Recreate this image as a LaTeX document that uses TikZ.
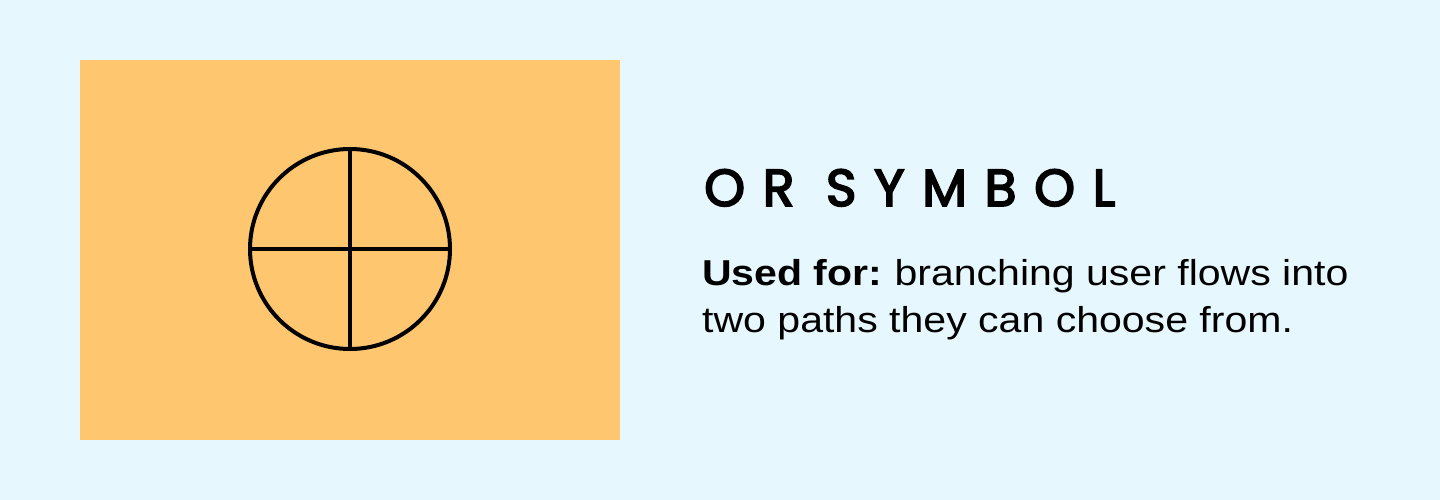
\documentclass[tikz,border=0pt]{standalone}
\usepackage{fontspec}
\setmainfont{Liberation Sans}
\newfontfamily\bodyfont[FakeStretch=1.14]{Liberation Sans}
\newfontfamily\titlefont[LetterSpace=34,FakeBold=3.5]{Poppins}
\definecolor{bgc}{HTML}{E6F8FE}
\definecolor{card}{HTML}{FFC670}
\tikzset{
  sym/.style={draw=black, line width=4pt},
  titletext/.style={anchor=base west, inner sep=0pt, font=\titlefont\fontsize{52}{52}\selectfont},
  bodytext/.style={anchor=base west, inner sep=0pt, font=\bodyfont\fontsize{36}{47}\selectfont}
}
\begin{document}
\begin{tikzpicture}[x=1pt,y=-1pt]
\fill[bgc] (0,0) rectangle (1440,500);
\useasboundingbox (0,0) rectangle (1440,500);
\fill[card] (80,60) rectangle (620,440);
\node[sym, circle, minimum size=200pt, inner sep=0pt] (c) at (350,249) {};
\draw[sym] (c.north) -- (c.south);
\draw[sym] (c.west) -- (c.east);
\node[titletext] (t) at (704,206) {OR SYMBOL};
\node[bodytext] (b1) at (702,285) {\textbf{Used for:}\hspace{-3pt} branching user flows into};
\node[bodytext] (b2) at ([yshift=-47pt]b1.base west) {two paths they can choose from.};
\end{tikzpicture}
\end{document}
